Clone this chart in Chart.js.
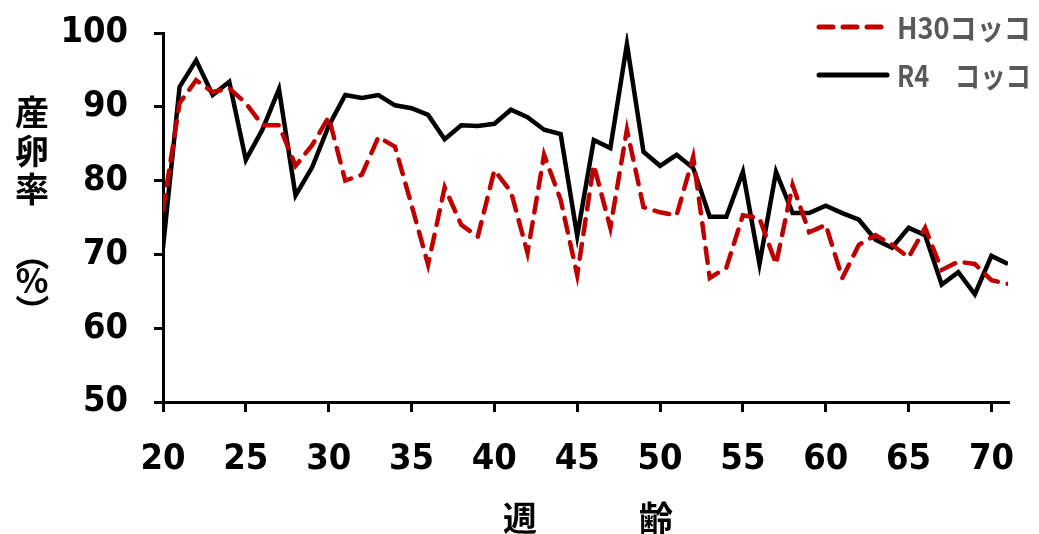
<!DOCTYPE html>
<html>
<head>
<meta charset="utf-8">
<script src="https://cdn.jsdelivr.net/npm/chart.js@4"></script>
<style>
  html, body { margin: 0; padding: 0; background: #fff; }
  #wrap { width: 1039px; height: 534px; position: relative; }
</style>
</head>
<body>
<div id="wrap"><canvas id="linechart" width="1039" height="534"></canvas></div>
<script>
// weeks of age
const weeks = [20,21,22,23,24,25,26,27,28,29,30,31,32,33,34,35,36,37,38,39,40,41,42,43,44,45,
  46,47,48,49,50,51,52,53,54,55,56,57,58,59,60,61,62,63,64,65,66,67,68,69,70,71];

// H30 コッコ (red dashed)
const h30 = [76,90.5,93.6,92,92.5,90.5,87.5,87.5,82,84.8,88.6,80,80.8,85.9,84.6,76.7,68.6,79.1,74,72.4,
  81.4,78.5,70.2,83.5,77.4,67.2,82.1,73.6,86.9,76.4,75.7,75.3,83.2,66.8,68.2,75.3,74.9,68.7,79.4,73,
  74,66.8,71.3,72.6,71.3,69.6,73.6,67.9,69,68.7,66.5,66];

// R4 コッコ (black solid)
const r4 = [70.9,92.7,96.3,91.6,93.4,82.8,86.9,92.4,78,81.8,87.4,91.6,91.2,91.6,90.2,89.8,88.9,85.6,87.5,87.4,
  87.7,89.6,88.6,86.9,86.3,72.5,85.5,84.4,98.5,83.9,82,83.5,81.7,75.1,75.1,81.2,68.7,81.2,75.6,75.6,
  76.6,75.6,74.7,72,70.9,73.6,72.6,65.9,67.6,64.6,69.8,68.7];

const seriesNames = ['H30コッコ', 'R4\u3000コッコ'];
const yTitle = ['産', '卵', '率', '（', '%', '）'];
const xTitle = ['週', '齢'];

const FONT = '"DejaVu Sans Condensed", "Noto Sans CJK JP", sans-serif';
const JPFONT = '"Noto Sans CJK JP", sans-serif';

const toPts = (arr) => arr.map((v, i) => ({ x: weeks[i], y: v }));

const extras = {
  id: 'extras',
  afterDraw(chart) {
    const c = chart.ctx;
    c.save();
    // y title, stacked upright (brackets turned for vertical writing)
    c.fillStyle = '#000';
    c.font = 'bold 34px ' + JPFONT;
    c.textAlign = 'center';
    c.textBaseline = 'middle';
    const ys = [112, 151, 189, 254, 280, 311];
    yTitle.forEach((ch, i) => {
      if (ch === '（' || ch === '）') {
        c.save();
        c.translate(32, ys[i]);
        c.rotate(Math.PI / 2);
        c.fillText(ch, 0, 0);
        c.restore();
      } else {
        c.fillText(ch, 32, ys[i]);
      }
    });
    // x title
    c.fillText(xTitle[0], 520, 518);
    c.fillText(xTitle[1], 656, 518);
    // legend
    const items = [
      { y: 27, color: '#C00000', dash: [14, 10] },
      { y: 75, color: '#000000', dash: [] }
    ];
    items.forEach((it, i) => {
      c.beginPath();
      c.strokeStyle = it.color;
      c.lineWidth = 5;
      c.lineCap = 'round';
      c.setLineDash(it.dash);
      c.moveTo(819, it.y);
      c.lineTo(887, it.y);
      c.stroke();
      c.setLineDash([]);
      c.fillStyle = '#595959';
      c.font = 'bold 30px ' + JPFONT;
      c.textAlign = 'left';
      c.fillText(seriesNames[i], 897, it.y + 1, 134);
    });
    c.restore();
  }
};

new Chart(document.getElementById('linechart'), {
  type: 'line',
  data: {
    datasets: [
      {
        label: seriesNames[0],
        data: toPts(h30),
        borderColor: '#C00000',
        borderWidth: 4.5,
        borderDash: [15, 10],
        borderCapStyle: 'round',
        pointRadius: 0,
        tension: 0
      },
      {
        label: seriesNames[1],
        data: toPts(r4),
        borderColor: '#000000',
        borderWidth: 4.5,
        pointRadius: 0,
        tension: 0
      }
    ]
  },
  options: {
    responsive: false,
    animation: false,
    layout: { padding: { top: 33, right: 31, left: 0, bottom: 0 } },
    plugins: { legend: { display: false }, tooltip: { enabled: false } },
    scales: {
      x: {
        type: 'linear',
        min: 20,
        max: 71,
        afterFit(s) { s.height = 132; s.paddingLeft = 0; s.paddingRight = 0; },
        ticks: {
          stepSize: 5,
          includeBounds: false,
          padding: 26,
          color: '#000',
          font: { family: FONT, size: 36, weight: 'bold' },
          maxRotation: 0
        },
        grid: { drawOnChartArea: false, drawTicks: true, tickLength: 10, color: '#000', lineWidth: 3 },
        border: { display: true, color: '#000', width: 3 }
      },
      y: {
        min: 50,
        max: 100,
        afterFit(s) { s.width = 163; s.paddingTop = 0; s.paddingBottom = 0; },
        ticks: {
          stepSize: 10,
          padding: 26,
          color: '#000',
          font: { family: FONT, size: 36, weight: 'bold' }
        },
        grid: { drawOnChartArea: false, drawTicks: true, tickLength: 9, color: '#000', lineWidth: 3 },
        border: { display: true, color: '#000', width: 3 }
      }
    }
  },
  plugins: [extras]
});
</script>
</body>
</html>
